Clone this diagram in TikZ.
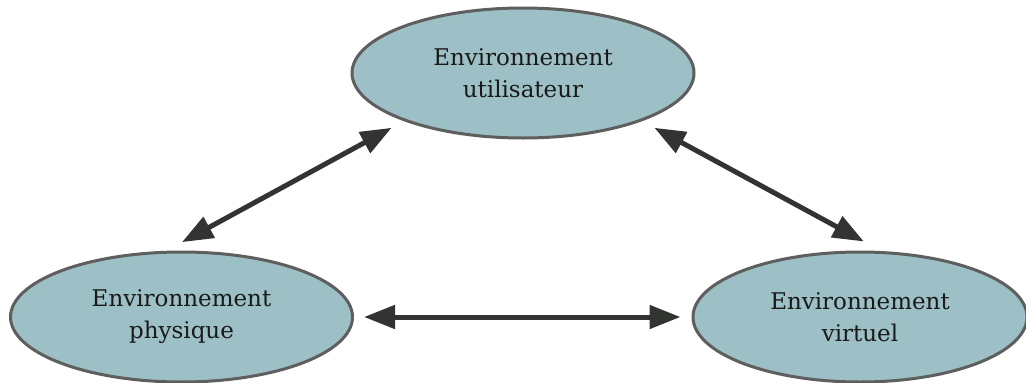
\documentclass[tikz,border=0pt]{standalone}
\usepackage{fontspec}
\setmainfont{DejaVu Serif}
\usetikzlibrary{shapes.geometric,arrows.meta,positioning}
\definecolor{envfill}{HTML}{9DC0C6}
\definecolor{envline}{HTML}{5E5E5E}
\definecolor{flechecol}{HTML}{323432}
\tikzset{env/.style={ellipse,draw=envline,fill=envfill,line width=3pt,inner sep=0pt,
    minimum width=342pt,minimum height=130pt,align=center,text=black!90,
    font=\fontsize{23}{32}\selectfont},
  fleche/.style={draw=flechecol,line width=5pt,
    {Triangle[length=31pt,width=23pt]}-{Triangle[length=31pt,width=23pt]}}}

\begin{document}
\begin{tikzpicture}[x=1pt,y=-1pt]
                \useasboundingbox (0,0) rectangle (1026,383);

                \node[env] (user) at (523,73) {Environnement\\utilisateur};
                \node[env] (phys) at (181.5,317) {Environnement\\physique};
                \node[env,minimum width=334pt] (virt) at (860,317) {Environnement\\virtuel};

                \draw[fleche,shorten <=18pt,shorten >=14pt] (phys.103) -- (user.202);
                \draw[fleche,shorten <=14pt,shorten >=20pt] (user.338) -- (virt.72);
                \draw[fleche,shorten <=10pt,shorten >=11pt] (phys.east) -- (virt.west);
            \end{tikzpicture}
\end{document}
